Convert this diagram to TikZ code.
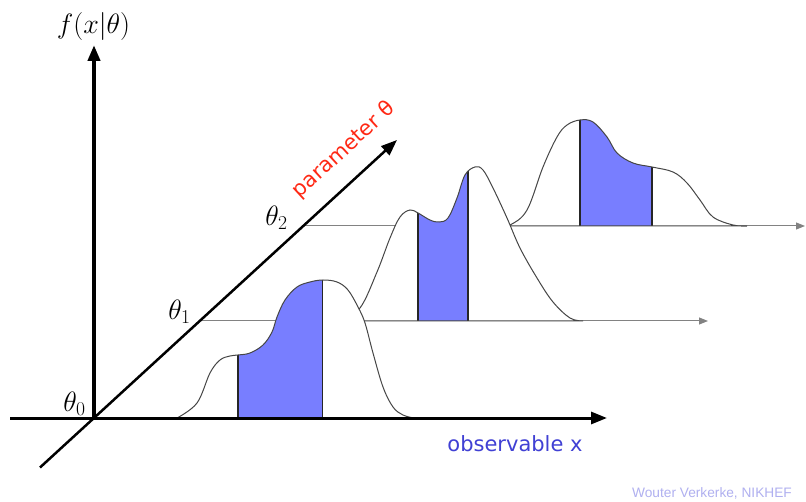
\RequirePackage{fix-cm}
\documentclass[tikz,border=0pt]{standalone}
\usepackage{fontspec}
\newfontfamily\vsans{DejaVu Sans}
\newfontfamily\credfont{Liberation Sans}
\usetikzlibrary{arrows.meta}
\definecolor{fillblue}{RGB}{120,126,255}
\definecolor{obsblue}{RGB}{64,64,212}
\definecolor{parred}{RGB}{255,40,20}
\definecolor{credcol}{RGB}{176,176,240}
\definecolor{basegray}{RGB}{130,130,130}
\definecolor{curvegray}{RGB}{70,70,70}
\begin{document}
\begin{tikzpicture}[x=1pt,y=1pt,
 axisline/.style={black,-{Triangle[length=16pt,width=12pt]}},
 baseln/.style={basegray,line width=1pt,-{Triangle[length=9pt,width=7pt]}},
 curveln/.style={curvegray,line width=1pt},
 edgeln/.style={black!85,line width=1.4pt},
 mathlbl/.style={inner sep=0pt,font=\fontsize{28}{30}\selectfont},
 ]
\useasboundingbox (0,0) rectangle (806,501);
\fill[white] (0,0) rectangle (806,501);
\coordinate (O) at (94,83);
\coordinate (Vtop) at (94,456);
\coordinate (Hleft) at (10,83);
\coordinate (Hright) at (607,83);
\coordinate (Dlow) at (40,33.5);
\coordinate (Dtop) at (397,361);
\coordinate (B1s) at (199.8,180);
\coordinate (B1e) at (708,180);
\coordinate (B2s) at (303.4,275);
\coordinate (B2e) at (805,275);

\def\curveA{plot[smooth,tension=0.6] coordinates {(177,83) (197,98) (210,128) (220,141) (230,145) (238,146) (250,148) (263,156) (272,169) (277,184) (285,201) (297,214) (310,219) (323,221) (337,219) (348,211) (358,194) (365,178) (373,148) (383,114) (393,94) (403,86) (414,83)}}
\def\curveB{plot[smooth,tension=0.6] coordinates {(340,180) (360,193) (377,229) (390,263) (400,284) (410,291) (418,288) (430,281) (439,279) (448,283) (457,303) (465,326) (475,334) (483,331) (493,313) (507,283) (520,253) (537,223) (553,199) (570,183) (583,180)}}
\def\curveC{plot[smooth,tension=0.6] coordinates {(498,275) (510,276) (527,291) (543,334) (557,364) (567,376) (580,381) (593,379) (607,364) (617,348) (633,338) (652,334) (673,329) (687,318) (700,301) (713,284) (733,276) (747,275)}}

% theta_2 slice
\draw[baseln] (B2s) -- (B2e);
\fill[white] \curveC -- cycle;
\begin{scope}
\clip \curveC -- cycle;
\fill[fillblue] (580,270) rectangle (652,400);
\draw[edgeln] (580,270) -- (580,400);
\draw[edgeln] (652,270) -- (652,400);
\end{scope}
\draw[curveln] \curveC -- cycle;

% theta_1 slice
\draw[baseln] (B1s) -- (B1e);
\fill[white] \curveB -- cycle;
\begin{scope}
\clip \curveB -- cycle;
\fill[fillblue] (418,175) rectangle (468,345);
\draw[edgeln] (418,175) -- (418,345);
\draw[edgeln] (468,175) -- (468,345);
\end{scope}
\draw[curveln] \curveB -- cycle;

% theta_0 slice
\fill[white] \curveA -- cycle;
\begin{scope}
\clip \curveA -- cycle;
\fill[fillblue] (238,80) rectangle (322.5,230);
\draw[edgeln] (238,80) -- (238,230);
\draw[edgeln] (322.5,80) -- (322.5,230);
\end{scope}
\draw[curveln] \curveA -- cycle;

% axes
\draw[axisline,line width=3pt] (Hleft) -- (Hright);
\draw[axisline,line width=2.5pt] (Dlow) -- (Dtop);
\draw[axisline,line width=4pt] (O) -- (Vtop);

% labels
\node[mathlbl] (fx) at (93.5,474.5) {$f(x|\theta)$};
\node[mathlbl] (t0) at (74.5,97.5) {$\theta_0$};
\node[mathlbl] (t1) at (179.5,189) {$\theta_1$};
\node[mathlbl] (t2) at (276.5,283) {$\theta_2$};
\node[inner sep=0pt,text=parred,font=\vsans\fontsize{21}{24}\selectfont,rotate=42.5] (par) at (344,351) {parameter θ};
\node[inner sep=0pt,anchor=base,text=obsblue,font=\vsans\fontsize{21}{24}\selectfont] (obs) at (515,49) {observable x};
\node[inner sep=0pt,anchor=base,text=credcol,font=\credfont\fontsize{13.7}{16}\selectfont] (cred) at (712,4) {Wouter Verkerke, NIKHEF};
\end{tikzpicture}
\end{document}
